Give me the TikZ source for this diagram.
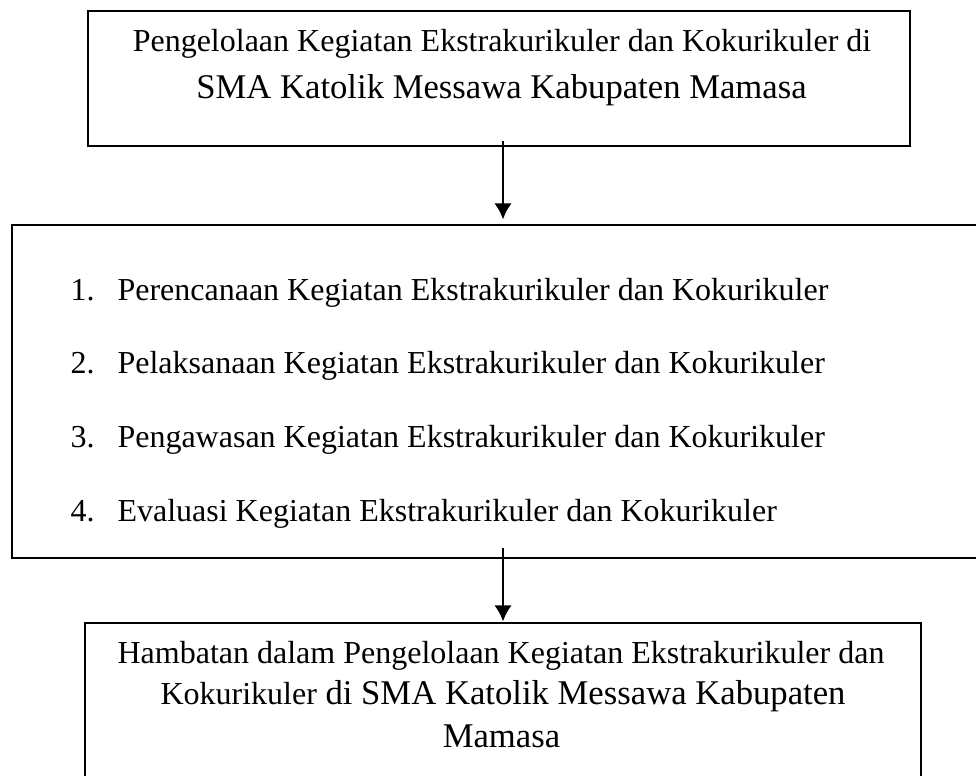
\documentclass[tikz,border=0pt]{standalone}
\usepackage{fontspec}
\setmainfont{Liberation Serif}
\usetikzlibrary{arrows.meta,calc,positioning}
\tikzset{
    -Latex, line width=0.8pt,
    kotak/.style={draw, rectangle, inner sep=0pt, minimum width=#1},
    teks/.style={anchor=base, inner sep=0pt, font=\fontsize{12}{14}\selectfont},
    teksbesar/.style={anchor=base, inner sep=0pt, font=\fontsize{13}{15}\selectfont},
    panah/.style={-{Latex[length=6pt,width=6.5pt]}, line width=1pt}
}
\begin{document}
\begin{tikzpicture}[x=0.375pt, y=-0.375pt]
	\useasboundingbox (0,0) rectangle (976,776);
	\clip (0,0) rectangle (976,776);
	% kotak
	\node[kotak=308.25pt, minimum height=50.625pt] (judul) at (499,78.5) {};
	\node[kotak=366.75pt, minimum height=124.875pt] (tahap) at (501,391.5) {};
	\node[kotak=313.5pt, minimum height=62.625pt] (hambatan) at (503,706.5) {};
	% judul
	\node[teks] (judul1) at (502,52) {Pengelolaan Kegiatan Ekstrakurikuler dan Kokurikuler di};
	\node[teksbesar] (judul2) at (501.5,99) {SMA Katolik Messawa Kabupaten Mamasa};
	% tahapan
	\foreach \n/\y/\isi in {1/301/Perencanaan, 2/374/Pelaksanaan, 3/447/Pengawasan, 4/521/Evaluasi}{
		\node[teks, anchor=base west] (no\n) at (70,\y) {\n.};
		\node[teks, anchor=base west] (tahap\n) at (117,\y) {\isi\ Kegiatan Ekstrakurikuler dan Kokurikuler};
	}
	% hambatan
	\node[teks] (hambatan1) at (501,663) {Hambatan dalam Pengelolaan Kegiatan Ekstrakurikuler dan};
	\node[teksbesar] (hambatan2) at (503,704) {{\fontsize{12}{14}\selectfont Kokurikuler} di SMA Katolik Messawa Kabupaten};
	\node[teksbesar] (hambatan3) at (501.5,747) {Mamasa};
	% panah
	\draw[panah] ($(judul.south)+(4,-6)$) -- ($(judul.south |- tahap.north)+(4,-5)$);
	\draw[panah] ($(hambatan.north |- tahap.south)+(0,-11)$) -- ($(hambatan.north)+(0,-1)$);
\end{tikzpicture}
\end{document}
